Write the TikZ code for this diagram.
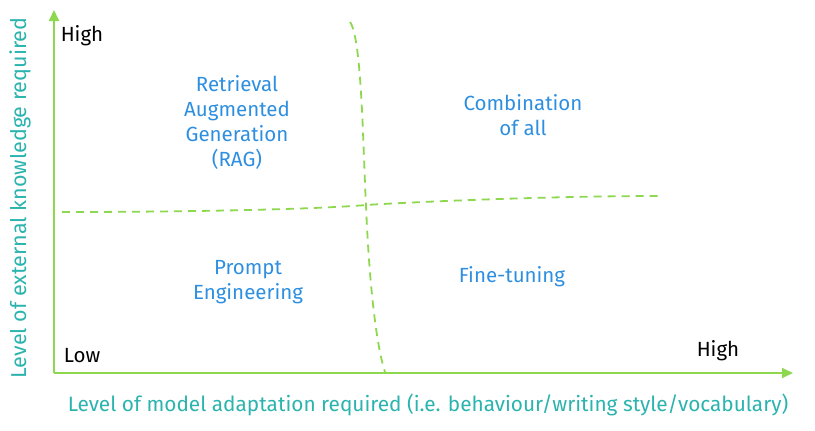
\documentclass[tikz,border=0pt]{standalone}
\usepackage{fontspec}
\setmainfont{Fira Sans}
\usetikzlibrary{arrows.meta}
\definecolor{axisgreen}{HTML}{8ED850}
\definecolor{quadblue}{HTML}{2E8FE0}
\definecolor{labelteal}{HTML}{2BB3AE}
\begin{document}
\begin{tikzpicture}[x=1pt, y=-1pt]
\tikzset{quadrant/.style={text=quadblue, align=center, font=\fontsize{20.5}{25}\selectfont},
  levelmark/.style={text=black, font=\fontsize{20.5}{24}\selectfont},
  axislabel/.style={text=labelteal, font=\fontsize{20.8}{24}\selectfont},
  axisline/.style={draw=axisgreen, line width=2pt, -{Triangle[length=11pt, width=10pt]}},
  divider/.style={draw=axisgreen, line width=1.8pt, dash pattern=on 8pt off 6pt}}
\useasboundingbox (0,0) rectangle (815,431);
\coordinate (O) at (54,373);
\coordinate (Ytop) at (54,10);
\coordinate (Xend) at (793,373);
\draw[axisline] (O) -- (Ytop);
\draw[axisline] (O) -- (Xend);
\coordinate (Vtop) at (350,22);
\coordinate (Vmid) at (366,205);
\coordinate (Vbot) at (385,372);
\coordinate (Hleft) at (62,212);
\coordinate (Hright) at (660,196);
\draw[divider] (Vtop) .. controls (362,38) and (363,150) .. (Vmid) .. controls (369,280) and (376,345) .. (Vbot);
\draw[divider] (Hleft) .. controls (200,212) and (320,209) .. (Vmid) .. controls (430,201) and (560,196) .. (Hright);
\node[levelmark] (yhigh) at (82,36) {High};
\node[levelmark] (ylow) at (82,356) {Low};
\node[levelmark] (xhigh) at (718,351) {High};
\node[quadrant] (rag) at (237,122) {Retrieval\\Augmented\\Generation\\(RAG)};
\node[quadrant] (combo) at (523,115) {Combination\\of all};
\node[quadrant] (prompt) at (248,282) {Prompt\\Engineering};
\node[quadrant] (finetune) at (512,277) {Fine-tuning};
\node[axislabel] (xlabel) at (428,405) {Level of model adaptation required (i.e. behaviour/writing style/vocabulary)};
\node[axislabel, rotate=90, font=\fontsize{21.5}{24}\selectfont] (ylabel) at (20,198) {Level of external knowledge required};
\end{tikzpicture}
\end{document}
